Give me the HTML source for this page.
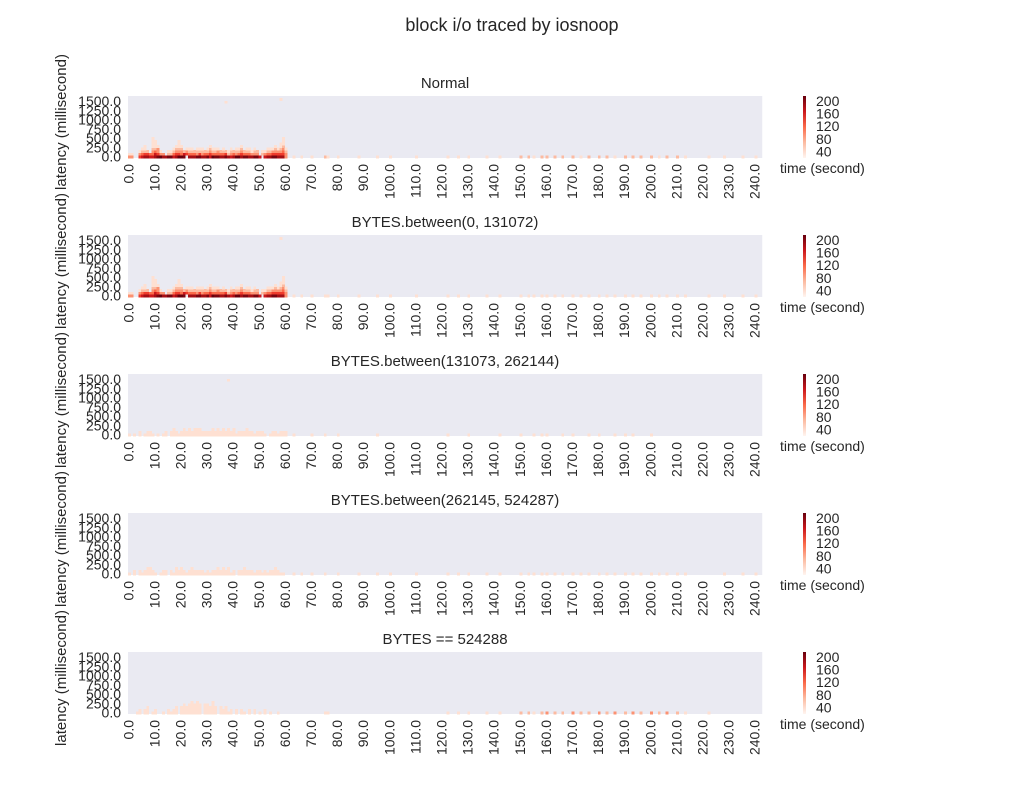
<!DOCTYPE html>
<html><head><meta charset="utf-8"><style>
body{margin:0;background:#fff;}
svg text{font-family:"Liberation Sans","DejaVu Sans",sans-serif;fill:#262626;}
</style></head><body>
<svg id="chart" width="1024" height="800" xmlns="http://www.w3.org/2000/svg">
<defs><linearGradient id="reds" x1="0" y1="1" x2="0" y2="0">
<stop offset="0" stop-color="#fff5f0"/><stop offset="0.25" stop-color="#fcbba1"/><stop offset="0.5" stop-color="#fb6a4a"/><stop offset="0.75" stop-color="#cb181d"/><stop offset="1" stop-color="#67000d"/></linearGradient></defs>
<text x="512" y="31" font-size="18" text-anchor="middle">block i/o traced by iosnoop</text>
<g id="panels"></g>
</svg>
<script>
const panelTitles = ["Normal","BYTES.between(0, 131072)","BYTES.between(131073, 262144)","BYTES.between(262145, 524287)","BYTES == 524288"];
const xTickLabels = ["0.0","10.0","20.0","30.0","40.0","50.0","60.0","70.0","80.0","90.0","100.0","110.0","120.0","130.0","140.0","150.0","160.0","170.0","180.0","190.0","200.0","210.0","220.0","230.0","240.0"];
const yTickLabels = ["0.0","250.0","500.0","750.0","1000.0","1250.0","1500.0"];
const cbarLabels = [200,160,120,80,40];
// dense rows (digit = count level, index = second), panels 1 & 2
const denseRows1 = [
"3300567766789778867998077788778698877876799788778860677887773",
"1100345544653302245546544435344544444523434544433302344555553",
"0000122203431001123332322222222322322212222322212201122333342",
"0000011002230000012220111011101211101001011201101000011121231",
"0000001001110000001110000000000100000000000100000000000010120",
"0000000001100000000100000000000000000000000000000000000000110",
"0000000001100000000100000000000000000000000000000000000000010",
"0000000001000000000000000000000000000000000000000000000000010"];
const denseRows2 = denseRows1;
// column heights (rows filled, light) for panels 3-5, seconds 0..60
const heights3 = "1010201221010120232123232333222232323232312223221222101221222";
const heights4 = "1020212332101220213232123222212122323231202232221221212232110";
const heights5 = "0001202301200102123034345454044353032312020210202010201001000";
const tailTimes = [63,66,70,75,76,80,88,95,100,110,122,126,130,137,142,150,153,155,158,160,163,166,170,173,176,180,183,186,190,193,196,200,203,206,210,213,222,228,235,240];
const tailLevels1 = [1,1,1,2,1,1,1,1,1,1,1,1,1,1,1,2,2,1,2,2,2,2,2,1,2,2,2,1,2,2,2,2,1,2,2,1,1,1,1,1];
const tailLevels2 = [1,1,1,1,1,1,1,1,1,1,1,1,1,1,1,1,1,1,1,1,1,1,1,1,1,1,1,1,1,1,1,1,1,1,1,1,1,1,1,1];
const tailLevels3 = [1,0,1,1,0,1,0,1,0,0,1,0,1,0,1,1,0,1,1,1,0,1,1,0,1,1,0,1,1,1,0,1,0,0,0,0,0,0,0,0];
const tailLevels4 = [1,1,1,1,0,1,1,1,1,1,1,1,1,1,1,1,1,1,1,1,1,1,1,1,1,1,1,1,1,1,1,1,1,1,1,1,0,1,1,1];
const tailLevels5 = [0,0,0,1,1,0,0,0,0,0,1,1,1,1,1,2,2,1,2,3,2,2,3,2,2,3,2,3,2,3,2,3,2,3,2,1,1,0,0,0];
const outlierTimes = [[37,58],[58],[38],[],[]];
const outlierLatency = [[1450,1570],[1570],[1450],[],[]];

const X0=128, BW=2.61, TOPS=[96,235,374,513,652], PH=62, BINMS=70, RH=2.6;
const reds=["#fff5f0","#fee0d2","#fcbba1","#fc9272","#fb6a4a","#ef3b2c","#cb181d","#a50f15","#7a0510","#67000d"];
const NS="http://www.w3.org/2000/svg";
const root=document.getElementById('panels');
function mk(t,a,p){const e=document.createElementNS(NS,t);for(const k in a)e.setAttribute(k,a[k]);(p||root).appendChild(e);return e;}
function xs(t){return X0+t*BW;}
function yr(row,top){return top+PH-(row+1)*RH;}
function yv(v,top){return top+PH-RH/2-v/BINMS*RH;}
const tails=[tailLevels1,tailLevels2,tailLevels3,tailLevels4,tailLevels5];
const heights=[null,null,heights3,heights4,heights5];
const dense=[denseRows1,denseRows2,null,null,null];
panelTitles.forEach((title,p)=>{
  const top=TOPS[p];
  const g=mk('g',{});
  
  
  const bg=mk('rect',{x:X0,y:top,width:243*BW,height:PH,fill:'#eaeaf2'},g);
  
  
  const cells=mk('g',{'shape-rendering':'crispEdges'},g);
  
  
  function cell(t,row,lvl){if(lvl<=0)return;const r=mk('rect',{x:xs(t),y:yr(row,top),width:BW+0.3,height:RH+0.3,fill:reds[Math.min(lvl,9)]},cells);
    
    }
  if(dense[p]) dense[p].forEach((s,row)=>{for(let t=0;t<s.length;t++)cell(t,row,+s[t]);});
  if(heights[p]){const s=heights[p];for(let t=0;t<s.length;t++){const h=+s[t];for(let r=0;r<h;r++)cell(t,r,1);}}
  tailTimes.forEach((t,i)=>cell(t,0,tails[p][i]));
  outlierTimes[p].forEach((t,i)=>cell(t,Math.round(outlierLatency[p][i]/BINMS),1));
  const tt=mk('text',{x:445,y:top-8,'font-size':15,'text-anchor':'middle'},g);tt.textContent=title;
  
  
  yTickLabels.forEach((l,i)=>{const e=mk('text',{x:121,y:yv(i*250,top)+5,'font-size':14,'text-anchor':'end'},g);e.textContent=l;
    
    });
  xTickLabels.forEach((l,i)=>{const x=xs(i*10+0.5)-1;const e=mk('text',{x:0,y:0,'font-size':14,'text-anchor':'end',transform:`translate(${x+5},${top+PH+6}) rotate(-90)`},g);e.textContent=l;
    
    });
  const yl=mk('text',{x:0,y:0,'font-size':15,'text-anchor':'middle',transform:`translate(66,${top+PH/2-5}) rotate(-90)`},g);yl.textContent='latency (millisecond)';
  
  
  const cb=mk('rect',{x:803,y:top,width:3,height:PH,fill:'url(#reds)'},g);
  
  
  cbarLabels.forEach(v=>{const e=mk('text',{x:816,y:top+PH-(v-20)/195*PH+5,'font-size':14},g);e.textContent=v;
    
    });
  const ct=mk('text',{x:780,y:top+PH+15,'font-size':14},g);ct.textContent='time (second)';
  
  
});
</script>
</body></html>
